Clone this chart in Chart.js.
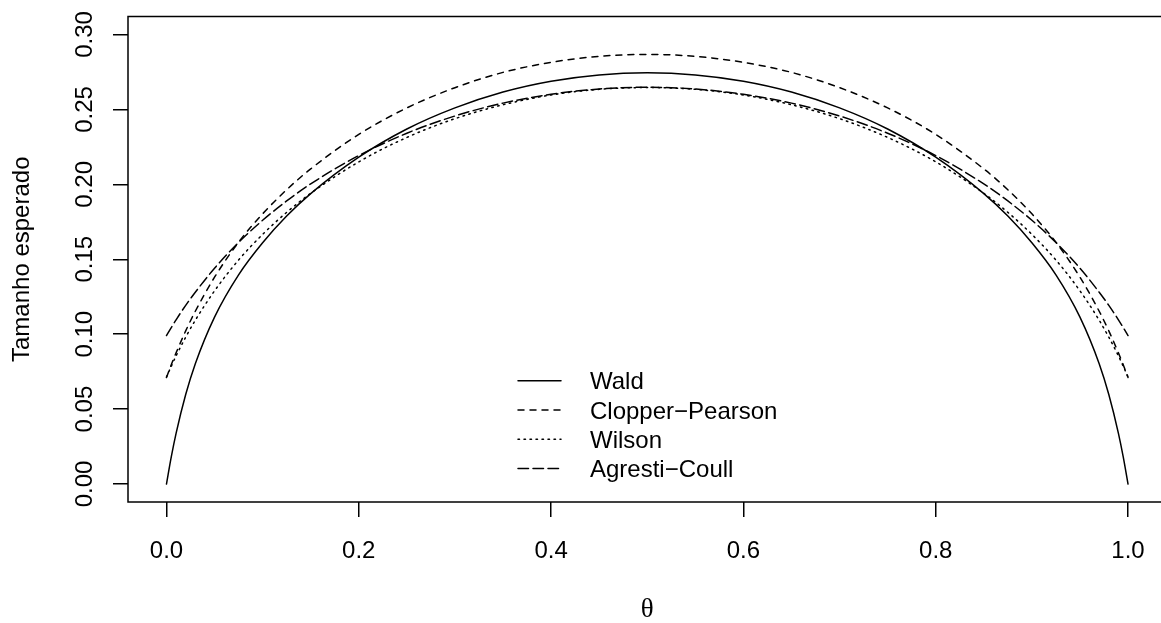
<!DOCTYPE html>
<html>
<head>
<meta charset="utf-8">
<script src="https://cdn.jsdelivr.net/npm/chart.js@4.4.1/dist/chart.umd.min.js"></script>
<style>
    html, body { margin: 0; padding: 0; overflow: hidden; background: #fff; }
    canvas { display: block; }
</style>
</head>
<body>
<canvas id="graph" width="1170" height="623" style="width:1170px;height:623px"></canvas>
<script>
        // theta grid and expected lengths
        let theta = [0, 0.005, 0.01, 0.02, 0.03, 0.05, 0.075, 0.1, 0.125, 0.15, 0.2, 0.25, 0.3, 0.35, 0.4, 0.45, 0.5,
                     0.55, 0.6, 0.65, 0.7, 0.75, 0.8, 0.85, 0.875, 0.9, 0.925, 0.95, 0.97, 0.98, 0.99, 0.995, 1];
        let wald = [0, 0.0181, 0.0338, 0.0597, 0.0803, 0.1114, 0.1396, 0.1610, 0.1788, 0.1938, 0.2181, 0.2369, 0.2510, 0.2616, 0.2688, 0.2730, 0.2744,
                    0.2730, 0.2688, 0.2616, 0.2510, 0.2369, 0.2181, 0.1938, 0.1788, 0.1610, 0.1396, 0.1114, 0.0803, 0.0597, 0.0338, 0.0181, 0];
        let clopper = [0.0711, 0.0796, 0.0875, 0.1022, 0.1153, 0.1380, 0.1614, 0.1803, 0.1964, 0.2103, 0.2333, 0.2510, 0.2645, 0.2747, 0.2814, 0.2854, 0.2867,
                       0.2854, 0.2814, 0.2747, 0.2645, 0.2510, 0.2333, 0.2103, 0.1964, 0.1803, 0.1614, 0.1380, 0.1153, 0.1022, 0.0875, 0.0796, 0.0711];
        let wilson = [0.0714, 0.0786, 0.0855, 0.0980, 0.1093, 0.1289, 0.1495, 0.1666, 0.1813, 0.1940, 0.2150, 0.2313, 0.2438, 0.2531, 0.2596, 0.2634, 0.2646,
                      0.2634, 0.2596, 0.2531, 0.2438, 0.2313, 0.2150, 0.1940, 0.1813, 0.1666, 0.1495, 0.1289, 0.1093, 0.0980, 0.0855, 0.0786, 0.0714];
        let agresti = [0.0991, 0.1044, 0.1096, 0.1192, 0.1280, 0.1440, 0.1612, 0.1760, 0.1889, 0.2003, 0.2192, 0.2341, 0.2456, 0.2542, 0.2601, 0.2636, 0.2648,
                       0.2636, 0.2601, 0.2542, 0.2456, 0.2341, 0.2192, 0.2003, 0.1889, 0.1760, 0.1612, 0.1440, 0.1280, 0.1192, 0.1096, 0.1044, 0.0991];
        let series_names = ['Wald', 'Clopper\u2212Pearson', 'Wilson', 'Agresti\u2212Coull'];
        let x_ticks = [0, 0.2, 0.4, 0.6, 0.8, 1.0];
        let x_tick_labels = ['0.0', '0.2', '0.4', '0.6', '0.8', '1.0'];
        let y_ticks = [0, 0.05, 0.10, 0.15, 0.20, 0.25, 0.30];
        let y_tick_labels = ['0.00', '0.05', '0.10', '0.15', '0.20', '0.25', '0.30'];
        let x_title = '\u03b8';
        let y_title = 'Tamanho esperado';

        let sans = '"Liberation Sans", Arial, Helvetica, sans-serif';
        let dashes = [[], [6, 6], [1.5, 4.5], [10.5, 4.5]];
        let series = [wald, clopper, wilson, agresti];

        let datasets = series.map((vals, i) => ({
            label: series_names[i],
            data: theta.map((t, j) => ({x: t, y: vals[j]})),
            borderColor: '#000',
            borderWidth: 1.5,
            borderDash: dashes[i],
            borderCapStyle: 'round',
            borderJoinStyle: 'round',
            pointRadius: 0,
            fill: false,
            cubicInterpolationMode: 'monotone'
        }));

        // box, tick labels, titles and legend the way base R draws them
        let r_look = {
            id: 'r_look',
            afterDraw(chart) {
                let ctx = chart.ctx;
                let a = chart.chartArea;
                let xs = chart.scales.x;
                let ys = chart.scales.y;
                ctx.save();
                ctx.strokeStyle = '#000';
                ctx.lineWidth = 1.5;
                ctx.setLineDash([]);
                ctx.strokeRect(a.left, a.top, a.right - a.left, a.bottom - a.top);

                ctx.fillStyle = '#000';
                ctx.font = '24px ' + sans;
                ctx.textAlign = 'center';
                ctx.textBaseline = 'alphabetic';
                x_ticks.forEach((v, i) => {
                    ctx.fillText(x_tick_labels[i], xs.getPixelForValue(v), 558);
                });
                y_ticks.forEach((v, i) => {
                    ctx.save();
                    ctx.translate(91.5, ys.getPixelForValue(v));
                    ctx.rotate(-Math.PI / 2);
                    ctx.fillText(y_tick_labels[i], 0, 0);
                    ctx.restore();
                });
                ctx.save();
                ctx.translate(29, (a.top + a.bottom) / 2);
                ctx.rotate(-Math.PI / 2);
                ctx.fillText(y_title, 0, 0);
                ctx.restore();
                ctx.font = '27px "Liberation Serif", "Times New Roman", serif';
                ctx.fillText(x_title, (a.left + a.right) / 2, 617);

                // legend
                ctx.font = '24px ' + sans;
                ctx.textAlign = 'left';
                chart.data.datasets.forEach((ds, i) => {
                    let yy = 380.8 + i * 29.2;
                    ctx.beginPath();
                    ctx.lineCap = 'round';
                    ctx.lineWidth = 1.5;
                    ctx.setLineDash(ds.borderDash);
                    ctx.moveTo(518, yy);
                    ctx.lineTo(561, yy);
                    ctx.stroke();
                    ctx.setLineDash([]);
                    ctx.fillText(ds.label, 590, yy + 8.5);
                });
                ctx.restore();
            }
        };

        let graph = document.getElementById('graph');
        let graph_chart = new Chart(graph, {
            type: 'line',
            data: {datasets: datasets},
            options: {
                responsive: false,
                animation: false,
                devicePixelRatio: 1,
                layout: {padding: {left: 88, top: 16.5, right: 3.5, bottom: 91}},
                plugins: {legend: {display: false}, tooltip: {enabled: false}},
                scales: {
                    x: {
                        type: 'linear',
                        min: -0.04,
                        max: 1.04,
                        afterBuildTicks: s => { s.ticks = x_ticks.map(v => ({value: v})); },
                        afterFit: s => { s.height = 30; },
                        ticks: {display: false},
                        grid: {drawOnChartArea: false, drawTicks: true, tickLength: 15, color: '#000', lineWidth: 1.5},
                        border: {display: false}
                    },
                    y: {
                        type: 'linear',
                        min: -0.012,
                        max: 0.312,
                        afterBuildTicks: s => { s.ticks = y_ticks.map(v => ({value: v})); },
                        afterFit: s => { s.width = 40; },
                        ticks: {display: false},
                        grid: {drawOnChartArea: false, drawTicks: true, tickLength: 15, color: '#000', lineWidth: 1.5},
                        border: {display: false}
                    }
                }
            },
            plugins: [r_look]
        });
</script>
</body>
</html>
